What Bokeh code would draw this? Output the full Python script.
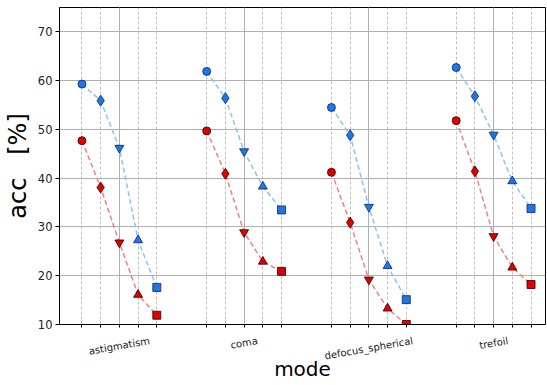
import math
from bokeh.plotting import figure
from bokeh.models import FixedTicker, Range1d
from bokeh.embed import file_html
from bokeh.resources import INLINE

categories = ["astigmatism", "coma", "defocus_spherical", "trefoil"]
offsets = [-0.3, -0.15, 0.0, 0.15, 0.3]
markers = ["circle", "diamond", "inverted_triangle", "triangle", "square"]

blue_astigmatism = [59.3, 55.9, 46.2, 27.3, 17.6]
blue_coma = [61.9, 56.4, 45.5, 38.3, 33.5]
blue_defocus = [54.5, 48.8, 34.1, 22.0, 15.1]
blue_trefoil = [62.7, 56.8, 48.9, 39.4, 33.8]

red_astigmatism = [47.7, 38.1, 26.8, 16.1, 11.9]
red_coma = [49.7, 40.9, 28.9, 22.9, 20.9]
red_defocus = [41.2, 30.9, 19.2, 13.3, 10.0]
red_trefoil = [51.8, 41.4, 28.1, 21.7, 18.2]

y_ticks = [10, 20, 30, 40, 50, 60, 70]

blue_series = [blue_astigmatism, blue_coma, blue_defocus, blue_trefoil]
red_series = [red_astigmatism, red_coma, red_defocus, red_trefoil]

FONT = "DejaVu Sans"
Y0, Y1 = 10, 75
X0, X1 = -0.48, 3.416
W, H = 546, 385
BL, BR, BT, BB = 58, 1, 7, 61

p = figure(width=W, height=H, output_backend="svg", toolbar_location=None,
           x_range=Range1d(X0, X1), y_range=Range1d(Y0, Y1),
           min_border_left=BL, min_border_right=BR, min_border_top=BT, min_border_bottom=BB)
p.outline_line_color = "black"
p.outline_line_width = 1
p.outline_line_alpha = 1
p.background_fill_color = "white"
p.border_fill_color = "white"

# DejaVu Sans advance widths (units of 1/2048 em) to centre rotated labels
ADV = {"a": 1255, "s": 1067, "t": 803, "i": 569, "g": 1300, "m": 1995, "c": 1126,
       "o": 1253, "d": 1300, "e": 1260, "f": 721, "u": 1298, "_": 1024, "p": 1300,
       "h": 1298, "r": 842, "l": 569}
LABEL_PX = 10
rot = math.radians(10)
px_per_unit = (W - BL - BR) / (X1 - X0)
label_ticks = []
label_over = {}
for i, c in enumerate(categories):
    wpx = sum(ADV.get(ch, 1200) for ch in c) / 2048 * LABEL_PX
    t = round(i + (wpx / 2) * math.cos(rot) / px_per_unit, 4)
    label_ticks.append(t)
    label_over[t] = c

minor_positions = [i + o for i in range(len(categories)) for o in offsets]
p.xaxis.ticker = FixedTicker(ticks=label_ticks, minor_ticks=minor_positions)
p.xaxis.major_label_overrides = label_over
p.xaxis.major_label_orientation = rot
p.xaxis.major_label_text_font = FONT
p.xaxis.major_label_text_font_size = f"{LABEL_PX}px"
p.xaxis.major_label_text_color = "#222222"
p.xaxis.major_label_standoff = 13
p.xaxis.major_tick_out = 0
p.xaxis.major_tick_in = 0
p.xaxis.major_tick_line_color = None
p.xaxis.minor_tick_in = 0
p.xaxis.minor_tick_out = 3
p.xaxis.minor_tick_line_color = "black"
p.xaxis.axis_label = "mode"
p.xaxis.axis_label_text_font = FONT
p.xaxis.axis_label_text_font_size = "20px"
p.xaxis.axis_label_text_font_style = "normal"
p.xaxis.axis_label_text_color = "black"
p.xaxis.axis_label_standoff = -13

p.yaxis.ticker = FixedTicker(ticks=y_ticks)
p.yaxis.major_label_text_font = FONT
p.yaxis.major_label_text_font_size = "11.5px"
p.yaxis.major_label_text_color = "#222222"
p.yaxis.major_label_standoff = 3
p.yaxis.axis_label = "acc\u00a0\u00a0\u00a0[%]"
p.yaxis.axis_label_text_font = FONT
p.yaxis.axis_label_text_font_size = "24px"
p.yaxis.axis_label_text_font_style = "normal"
p.yaxis.axis_label_text_color = "black"
p.yaxis.axis_label_standoff = 3
p.yaxis.minor_tick_line_color = None
p.yaxis.major_tick_in = 0
p.yaxis.major_tick_out = 4
p.yaxis.major_tick_line_color = "black"

for ax in (p.xaxis, p.yaxis):
    ax.axis_line_color = "black"

p.xgrid.ticker = FixedTicker(ticks=list(range(len(categories))), minor_ticks=minor_positions)
p.xgrid.grid_line_color = "#b0b0b0"
p.xgrid.grid_line_width = 1
p.xgrid.minor_grid_line_color = "#b0b0b0"
p.xgrid.minor_grid_line_dash = "3 2"
p.xgrid.minor_grid_line_width = 0.8
p.ygrid.grid_line_color = "#b0b0b0"
p.ygrid.grid_line_width = 1

for series, line_col, fill_col, edge_col in [
    (red_series, "#f08080", "#e00000", "#300000"),
    (blue_series, "#88c4f4", "#1f78e0", "#0a1f7a"),
]:
    for i, vals in enumerate(series):
        xs = [i + o for o in offsets]
        p.line(xs, vals, line_color=line_col, line_width=1.5, line_dash="5 3")
        for x, v, m in zip(xs, vals, markers):
            size = 8 if m in ("circle", "square") else 9
            if m == "diamond":
                size = 11
            p.scatter([x], [v], marker=m, size=size, fill_color=fill_col,
                      line_color=edge_col, line_width=0.8)

open("out.html", "w").write(file_html(p, INLINE))
